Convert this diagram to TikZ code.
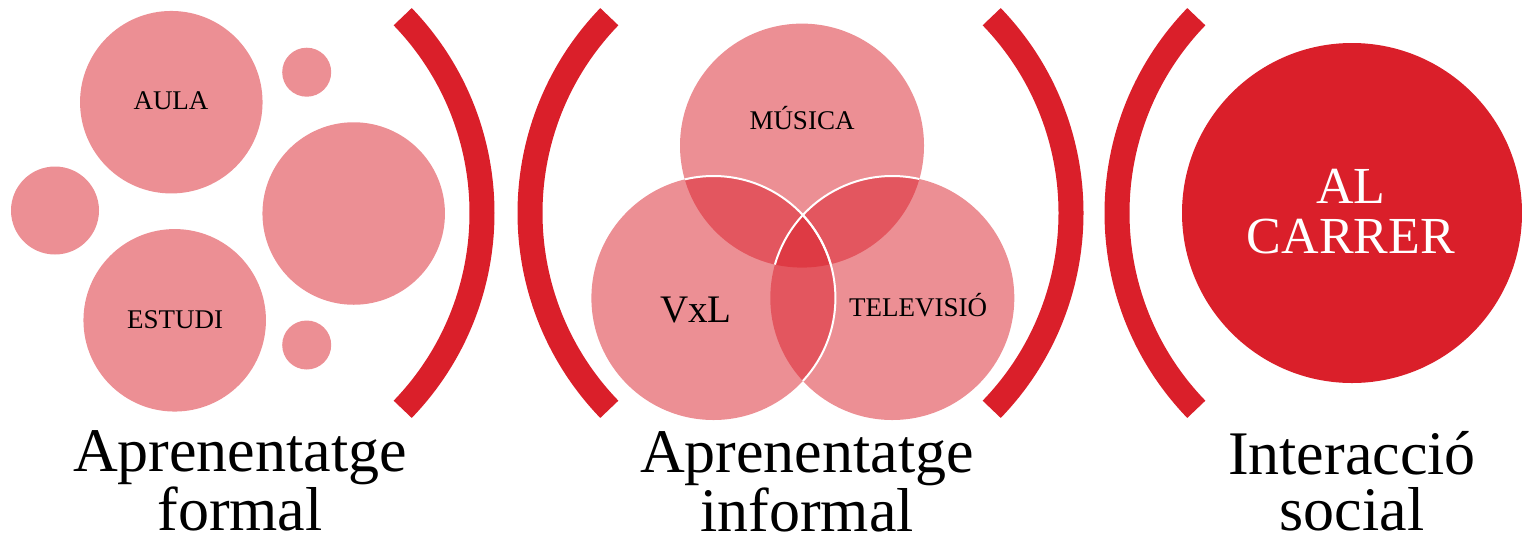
\documentclass[tikz,border=0pt]{standalone}
\usepackage{fontspec}
\setmainfont{Liberation Serif}
\definecolor{cred}{HTML}{DA1F2A}

\begin{document}
\begin{tikzpicture}[x=1pt,y=1pt,inner sep=0pt]
\tikzstyle{bubble}=[circle,fill=cred,fill opacity=0.5]
\tikzstyle{venn line}=[white,line width=2pt]
\tikzstyle{paren}=[cred,line width=25pt]
\tikzstyle{tag}=[font=\fontsize{27}{30}\selectfont,anchor=base]
\tikzstyle{title}=[font=\fontsize{62}{56}\selectfont,align=center,anchor=base,text depth=0pt]
\useasboundingbox (0,0) rectangle (1522,-542);

\node[bubble,minimum size=182.5pt] (aula) at (171.3,-102.2) {};
\node[bubble,minimum size=49pt] (dot1) at (306.7,-72.2) {};
\node[bubble,minimum size=88pt] (dot2) at (55,-210.5) {};
\node[bubble,minimum size=182.5pt] (big) at (353.7,-213.5) {};
\node[bubble,minimum size=182.5pt] (estudi) at (174.7,-320.3) {};
\node[bubble,minimum size=49pt] (dot3) at (306.7,-345) {};

\node[bubble,minimum size=244pt] (musica) at (802,-145.6) {};
\node[bubble,minimum size=244pt] (tv) at (892.3,-298) {};
\node[bubble,minimum size=244pt] (vxl) at (713.4,-298) {};
\begin{scope}
  \clip (musica) circle[radius=122];
  \draw[venn line] (tv) circle[radius=122] (vxl) circle[radius=122];
\end{scope}
\begin{scope}
  \clip (tv) circle[radius=122];
  \draw[venn line] (vxl) circle[radius=122];
\end{scope}

\node[circle,fill=cred,minimum size=340pt] (carrer) at (1352,-213) {};

\foreach \cx/\a in {199.4/0,812.6/180,788.4/0,1399.6/180}
  \draw[paren] (\cx,-213) ++(\a-44:282.6) arc[start angle=\a-44,end angle=\a+44,radius=282.6];

\node[tag] (aula text) at (171,-109) {AULA};
\node[tag] (estudi text) at (175,-328) {ESTUDI};
\node[tag] (musica text) at (802,-129) {MÚSICA};
\node[tag,font=\fontsize{39}{40}\selectfont] (vxl text) at (696,-322) {VxL};
\node[tag] (tv text) at (918,-316) {TELEVISIÓ};
\node[tag,white,align=center,font=\fontsize{52}{50}\selectfont] (carrer text) at (1351,-253) {AL\\CARRER};

\node[title] (formal) at (240,-530) {Aprenentatge\\formal};
\node[title] (informal) at (807,-531) {Aprenentatge\\informal};
\node[title] (social) at (1352,-530) {Interacció\\social};
\end{tikzpicture}
\end{document}
